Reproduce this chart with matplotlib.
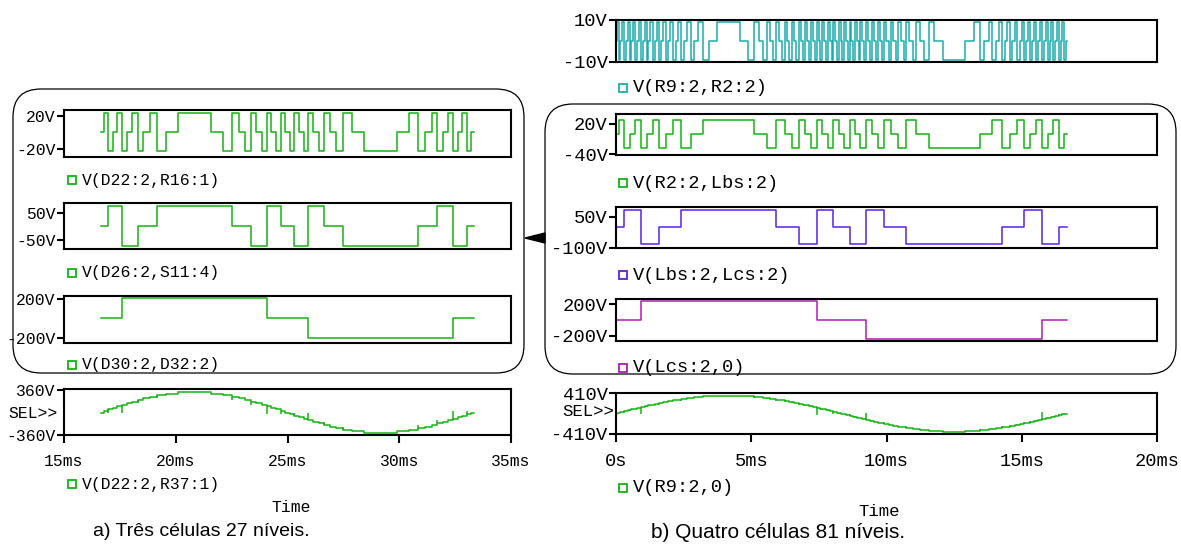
import numpy as np
import matplotlib
matplotlib.use('Agg')
import matplotlib.pyplot as plt
from matplotlib.patches import FancyBboxPatch, Polygon
from matplotlib.lines import Line2D

W, H = 1181, 545
period = 16.667  # ms, one 60 Hz cycle

# switching instants inside the first quarter cycle (ms after the zero crossing)
q27 = [0.102, 0.307, 0.513, 0.723, 0.938, 1.159, 1.389, 1.631, 1.890, 2.174,
       2.494, 2.880, 3.429]
q81 = [0.033, 0.100, 0.166, 0.232, 0.299, 0.366, 0.433, 0.500, 0.568, 0.636,
       0.705, 0.774, 0.843, 0.913, 0.984, 1.056, 1.128, 1.201, 1.275, 1.351,
       1.427, 1.505, 1.585, 1.666, 1.749, 1.834, 1.921, 2.011, 2.104, 2.200,
       2.300, 2.405, 2.516, 2.633, 2.759, 2.896, 3.049, 3.224, 3.438, 3.747]

# state of every cell (-1, 0, +1) for output level 0..13 (three cells)
a_c1 = [0, 1, -1, 0, 1, -1, 0, 1, -1, 0, 1, -1, 0, 1]
a_c2 = [0, 0, 1, 1, 1, -1, -1, -1, 0, 0, 0, 1, 1, 1]
a_c3 = [0, 0, 0, 0, 0, 1, 1, 1, 1, 1, 1, 1, 1, 1]
a_volts = [23, 75, 207]
a_step = 25

# state of every cell for output level 0..40 (four cells)
b_c1 = [0, 1, -1] * 13 + [0, 1]
b_c2 = [0, 0, 1, 1, 1, -1, -1, -1, 0, 0, 0, 1, 1, 1, -1, -1, -1, 0, 0, 0, 1,
        1, 1, -1, -1, -1, 0, 0, 0, 1, 1, 1, -1, -1, -1, 0, 0, 0, 1, 1, 1]
b_c3 = [0] * 5 + [1] * 9 + [-1] * 9 + [0] * 9 + [1] * 9
b_c4 = [0] * 14 + [1] * 27
b_volts = [9, 27, 81, 243]
b_step = 9

green = '#14b414'
cyan = '#1aacac'
violet = '#5a22e6'
magenta = '#b01cb4'

plt.rcParams['font.family'] = ['Liberation Mono', 'DejaVu Sans Mono']

FS_A = 11.8   # text size of the left screenshot
FS_B = 13.5   # text size of the right screenshot


def cycle(q, t0):
    n = len(q)
    half = period / 2
    t = ([t0] + [t0 + x for x in q] + [t0 + half - x for x in q[::-1]]
         + [t0 + half + x for x in q] + [t0 + period - x for x in q[::-1]]
         + [t0 + period])
    lev = ([0] + list(range(1, n + 1)) + list(range(n - 1, -1, -1))
           + list(range(-1, -n - 1, -1)) + list(range(-(n - 1), 1)))
    return np.array(t), np.array(lev)


def cell(table, lev):
    return np.array([np.sign(L) * table[abs(L)] for L in lev])


def spikes(t, lev, tables, depths, step):
    ts, y0, y1 = [], [], []
    for i in range(1, len(lev)):
        a, b = lev[i - 1], lev[i]
        top = None
        for k, tab in enumerate(tables):
            if np.sign(a) * tab[abs(a)] != np.sign(b) * tab[abs(b)]:
                top = k
        d = depths.get(top, 0)
        if d:
            ts.append(t[i])
            y0.append(b * step)
            y1.append(b * step - np.sign(a + b) * d * step)
    return ts, y0, y1


fig = plt.figure(figsize=(W / 100, H / 100), dpi=100)
bg = fig.add_axes([0, 0, 1, 1])
bg.set_xlim(0, W)
bg.set_ylim(H, 0)
bg.axis('off')


def panel(x0, x1, y0, y1, xlim, ylim, yticks, ylabels, fs):
    ax = fig.add_axes([x0 / W, 1 - y1 / H, (x1 - x0) / W, (y1 - y0) / H])
    ax.set_zorder(2)
    ax.set_xlim(*xlim)
    ax.set_ylim(*ylim)
    for s in ax.spines.values():
        s.set_linewidth(1.5)
    ax.set_yticks(yticks)
    ax.set_yticklabels(ylabels)
    ax.set_xticks([])
    ax.tick_params(axis='y', direction='out', length=5, width=1.5, pad=1,
                   labelsize=fs)
    return ax


def legend(x, y, text, color, fs):
    bg.add_line(Line2D([x], [y], marker='s', ms=5.5, mfc='none', mec=color,
                       mew=1.3))
    bg.text(x + 10, y, text, ha='left', va='center', fontsize=fs)


def draw_step(ax, t, v, color):
    ax.step(t, np.append(v, v[-1]), where='post', color=color, lw=1.1)


# rounded frames and the connecting arrow
bg.add_patch(FancyBboxPatch((13, 89), 511, 284,
                            boxstyle='round,pad=0,rounding_size=28',
                            fc='none', ec='black', lw=0.9))
bg.add_patch(FancyBboxPatch((545, 104), 631, 270,
                            boxstyle='round,pad=0,rounding_size=28',
                            fc='none', ec='black', lw=0.9))
bg.add_patch(Polygon([(525, 238), (545, 233), (545, 243)], closed=True,
                     fc='black', ec='black'))

# ---- a) three cells, 27 levels ----
ta, la = cycle(q27, period)
xa = (15, 35)
ax = panel(64, 511, 110, 157, xa, (-30.3, 27), [-20, 20], ['-20V', '20V'], FS_A)
draw_step(ax, ta, a_volts[0] * cell(a_c1, la), green)
legend(72, 180, 'V(D22:2,R16:1)', green, FS_A)

ax = panel(64, 511, 203, 249, xa, (-84.8, 87.5), [-50, 50], ['-50V', '50V'],
           FS_A)
draw_step(ax, ta, a_volts[1] * cell(a_c2, la), green)
legend(72, 273, 'V(D26:2,S11:4)', green, FS_A)

ax = panel(64, 511, 296, 343, xa, (-256, 231), [-200, 200], ['-200V', '200V'],
           FS_A)
draw_step(ax, ta, a_volts[2] * cell(a_c3, la), green)
legend(72, 365, 'V(D30:2,D32:2)', green, FS_A)

ax = panel(64, 511, 389, 435, xa, (-360, 376), [-360, 360], ['-360V', '360V'],
           FS_A)
draw_step(ax, ta, la * a_step, green)
st, s0, s1 = spikes(ta, la, [a_c1, a_c2, a_c3], {1: 2, 2: 5}, a_step)
ax.vlines(st, s0, s1, color=green, lw=1.1)
ax.set_xticks([15, 20, 25, 30, 35])
ax.set_xticklabels(['15ms', '20ms', '25ms', '30ms', '35ms'])
ax.tick_params(axis='x', direction='out', length=6, width=1.5, pad=8,
               labelsize=FS_A)
bg.text(58, 414, 'SEL>>', ha='right', va='center', fontsize=FS_A)
legend(72, 484, 'V(D22:2,R37:1)', green, FS_A)
bg.text(291, 508, 'Time', ha='center', va='center', fontsize=FS_A)
bg.text(201, 532, 'a) Três células 27 níveis.', ha='center', va='center',
        fontsize=14, family='Liberation Sans')

# ---- b) four cells, 81 levels ----
tb, lb = cycle(q81, 0.0)
xb = (0, 20)
ax = panel(616, 1157, 20, 62, xb, (-10, 10), [-10, 10], ['-10V', '10V'], FS_B)
draw_step(ax, tb, b_volts[0] * cell(b_c1, lb), cyan)
legend(623, 88, 'V(R9:2,R2:2)', cyan, FS_B)

ax = panel(616, 1157, 114, 155, xb, (-41.4, 39.8), [-40, 20], ['-40V', '20V'],
           FS_B)
draw_step(ax, tb, b_volts[1] * cell(b_c2, lb), green)
legend(623, 183, 'V(R2:2,Lbs:2)', green, FS_B)

ax = panel(616, 1157, 207, 248, xb, (-102, 96), [-100, 50], ['-100V', '50V'],
           FS_B)
draw_step(ax, tb, b_volts[2] * cell(b_c3, lb), violet)
legend(623, 275, 'V(Lbs:2,Lcs:2)', violet, FS_B)

ax = panel(616, 1157, 299, 341, xb, (-269.7, 264.5), [-200, 200],
           ['-200V', '200V'], FS_B)
draw_step(ax, tb, b_volts[3] * cell(b_c4, lb), magenta)
legend(623, 368, 'V(Lcs:2,0)', magenta, FS_B)

ax = panel(616, 1157, 393, 434, xb, (-410, 410), [-410, 410],
           ['-410V', '410V'], FS_B)
draw_step(ax, tb, lb * b_step, green)
st, s0, s1 = spikes(tb, lb, [b_c1, b_c2, b_c3, b_c4], {1: 1.5, 2: 4, 3: 16},
                    b_step)
ax.vlines(st, s0, s1, color=green, lw=1.1)
ax.set_xticks([0, 5, 10, 15, 20])
ax.set_xticklabels(['0s', '5ms', '10ms', '15ms', '20ms'])
ax.tick_params(axis='x', direction='out', length=6, width=1.5, pad=8,
               labelsize=FS_B)
bg.text(614, 412, 'SEL>>', ha='right', va='center', fontsize=12.5)
legend(623, 488, 'V(R9:2,0)', green, FS_B)
bg.text(879, 511, 'Time', ha='center', va='center', fontsize=12.5)
bg.text(778, 532, 'b) Quatro células 81 níveis.', ha='center', va='center',
        fontsize=15, family='Liberation Sans')

fig.savefig('out.png', dpi=100)
